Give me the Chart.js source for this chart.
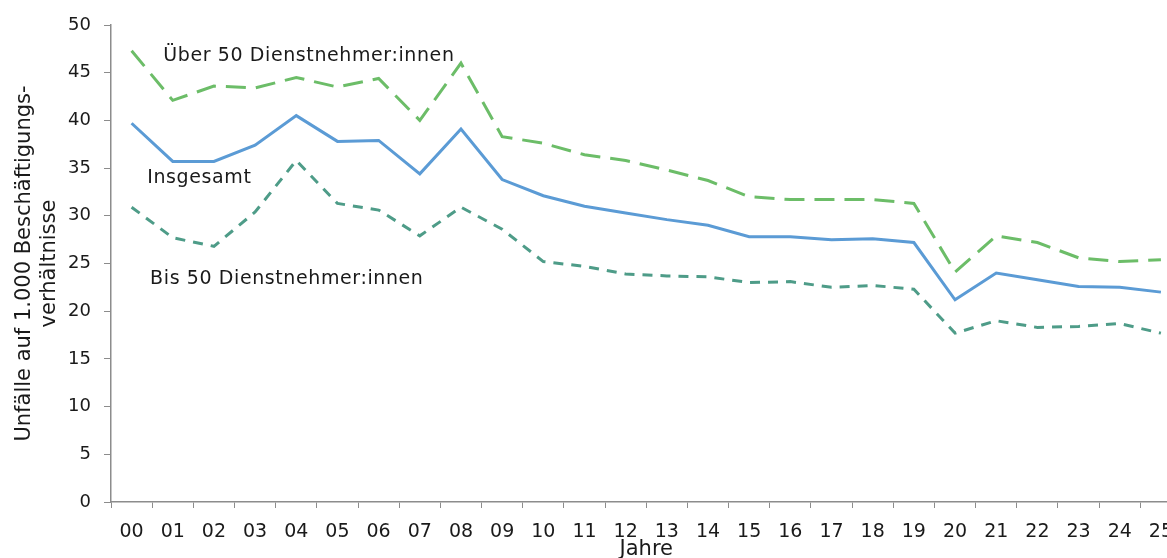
<!DOCTYPE html>
<html>
<head>
<meta charset="utf-8">
<script src="https://cdn.jsdelivr.net/npm/chart.js@4.4.1/dist/chart.umd.min.js"></script>
<style>
  html, body { margin: 0; padding: 0; background: #fff; overflow: hidden; }
  #wrap { width: 1186px; height: 558px; position: relative; }
</style>
</head>
<body>
<div id="wrap"><canvas id="chart"></canvas></div>
<script>
// ---------- Data ----------
const years = ["00","01","02","03","04","05","06","07","08","09","10","11","12",
               "13","14","15","16","17","18","19","20","21","22","23","24","25"];
const ueber50 = [47.3, 42.1, 43.6, 43.4, 44.5, 43.5, 44.4, 40.0, 46.0, 38.3, 37.6, 36.4, 35.8,
                 34.8, 33.7, 32.0, 31.7, 31.7, 31.7, 31.3, 24.1, 27.9, 27.2, 25.6, 25.2, 25.4];
const insgesamt = [39.7, 35.7, 35.7, 37.4, 40.5, 37.8, 37.9, 34.4, 39.1, 33.8, 32.1, 31.0, 30.3,
                   29.6, 29.0, 27.8, 27.8, 27.5, 27.6, 27.2, 21.2, 24.0, 23.3, 22.6, 22.5, 22.0];
const bis50 = [30.9, 27.7, 26.8, 30.4, 35.8, 31.3, 30.6, 27.9, 30.9, 28.6, 25.2, 24.7, 23.9,
               23.7, 23.6, 23.0, 23.1, 22.5, 22.7, 22.3, 17.7, 19.0, 18.3, 18.4, 18.7, 17.7];
const yTitle = ["Unfälle auf 1.000 Beschäftigungs-", "verhältnisse"];
const xTitle = "Jahre";

// labels placed in data coordinates: [text, category index (left edge), value (middle)]
const seriesLabels = [
  ["Über 50 Dienstnehmer:innen", 0.77, 46.7],
  ["Insgesamt", 0.38, 34.0],
  ["Bis 50 Dienstnehmer:innen", 0.45, 23.4],
];

const FONT = "'DejaVu Sans', sans-serif";
const TXT = "#1a1a1a";
const AXIS = "#8c8c8c";

const labelPlugin = {
  id: "seriesLabels",
  afterDatasetsDraw(chart) {
    const { ctx, scales: { x, y } } = chart;
    ctx.save();
    ctx.font = `19px ${FONT}`;
    ctx.letterSpacing = "0.6px";
    ctx.fillStyle = TXT;
    ctx.textBaseline = "middle";
    ctx.textAlign = "left";
    const step = x.getPixelForValue(1) - x.getPixelForValue(0);
    seriesLabels.forEach(([t, i, v]) => {
      ctx.fillText(t, x.getPixelForValue(0) + i * step, y.getPixelForValue(v));
    });
    ctx.restore();
  }
};

new Chart(document.getElementById("chart"), {
  type: "line",
  data: {
    labels: years,
    datasets: [
      { label: "Über 50 Dienstnehmer:innen", data: ueber50, borderColor: "#6cbd68",
        borderDash: [20, 10], borderWidth: 3 },
      { label: "Insgesamt", data: insgesamt, borderColor: "#5b9bd5", borderWidth: 3 },
      { label: "Bis 50 Dienstnehmer:innen", data: bis50, borderColor: "#4e9c88",
        borderDash: [10, 8], borderWidth: 3 },
    ]
  },
  options: {
    responsive: true,
    maintainAspectRatio: false,
    animation: false,
    layout: { padding: { top: 25, right: 0, left: 0, bottom: 0 } },
    elements: { point: { radius: 0 }, line: { tension: 0, borderJoinStyle: "miter" } },
    plugins: { legend: { display: false }, tooltip: { enabled: false } },
    scales: {
      x: {
        offset: true,
        grid: { offset: true, drawOnChartArea: false, drawTicks: true, tickLength: 6, color: AXIS },
        border: { color: AXIS, width: 1.5 },
        ticks: { font: { family: FONT, size: 19 }, color: TXT, padding: 13, autoSkip: false, maxRotation: 0 },
        title: { display: true, text: xTitle, font: { family: FONT, size: 21 }, color: TXT,
                 padding: { top: 0, bottom: -4 } },
        afterFit: s => { s.height = 56; }
      },
      y: {
        min: 0, max: 50,
        ticks: { stepSize: 5, font: { family: FONT, size: 18 }, color: TXT, padding: 13 },
        grid: { drawOnChartArea: false, drawTicks: true, tickLength: 7, color: AXIS },
        border: { color: AXIS, width: 1.5 },
        title: { display: true, text: yTitle, font: { family: FONT, size: 21, lineHeight: 1.19 }, color: TXT,
                 padding: { top: 12, bottom: 0 } },
        afterFit: s => { s.width = 111; }
      }
    }
  },
  plugins: [labelPlugin]
});
</script>
</body>
</html>
